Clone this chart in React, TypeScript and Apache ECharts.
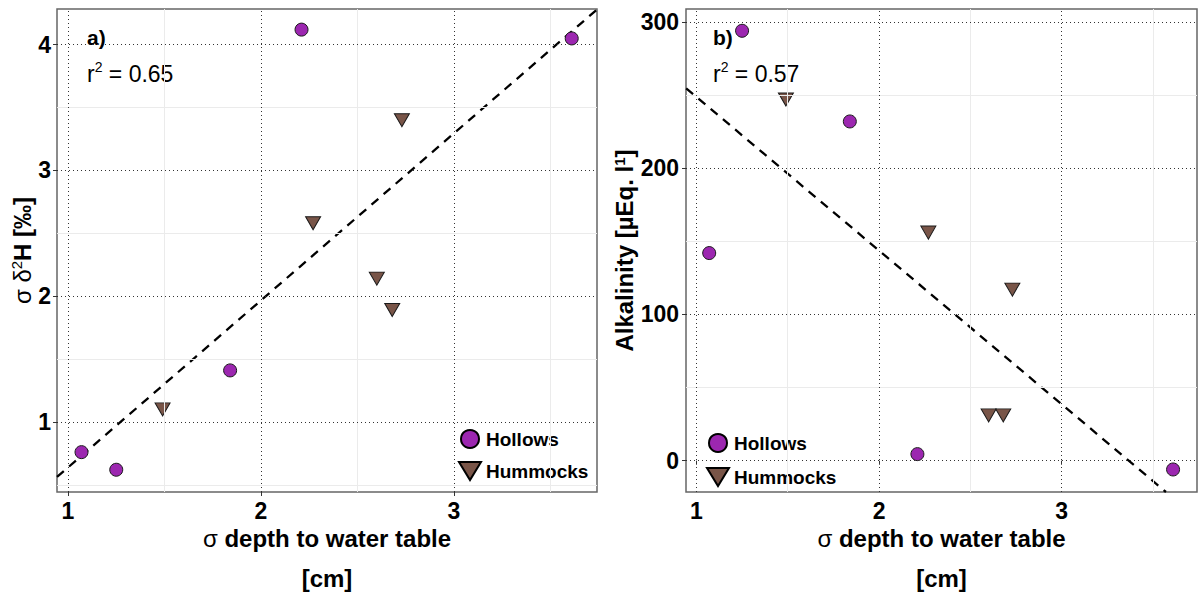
import React, { useEffect, useRef } from 'react';
import * as echarts from 'echarts';

// ---- data ----
const hollowsDepth = [1.07, 1.25, 1.84, 2.21, 3.61];
const hummocksDepth = [1.49, 2.27, 2.6, 2.68, 2.73];

const hollowsD2H = [0.76, 0.62, 1.41, 4.12, 4.05];
const hummocksD2H = [1.1, 2.58, 2.14, 1.89, 3.4];

const hollowsAlk = [142, 294, 232, 4.5, -6];
const hummocksAlk = [247, 156, 31, 31, 117];

// regression lines (end points)
const fitD2HX = [0.943, 3.741];
const fitD2HY = [0.5625, 4.28];
const fitAlkX = [0.944, 3.571];
const fitAlkY = [254.7, -21.4];

// axes
const depthRange = [0.943, 3.741];
const d2hRange = [0.443, 4.284];
const alkRange = [-21.4, 308.9];

const depthTicks = [1, 2, 3];
const depthMinor = [1.5, 2.5, 3.5];
const d2hTicks = [1, 2, 3, 4];
const d2hMinor = [0.5, 1.5, 2.5, 3.5];
const alkTicks = [0, 100, 200, 300];
const alkMinor = [50, 150, 250];

const r2Left = '0.65';
const r2Right = '0.57';

const FONT = '"Liberation Sans", Arial, sans-serif';
const PURPLE = '#9C27B0';
const BROWN = '#795548';
const DOWN_TRIANGLE = 'path://M0,0 L22,0 L11,18 Z';

const zip = (xs: number[], ys: number[]) => xs.map((x, i) => [x, ys[i]]);

function gridLines(xMinor: number[], yMinor: number[], xMajor: number[], yMajor: number[]) {
  const minorStyle = { color: '#ebebeb', width: 1, type: 'solid' };
  const majorStyle = { color: '#333', width: 1, type: [1, 3] };
  return [
    ...xMinor.map((v) => ({ xAxis: v, lineStyle: minorStyle })),
    ...yMinor.map((v) => ({ yAxis: v, lineStyle: minorStyle })),
    ...xMajor.map((v) => ({ xAxis: v, lineStyle: majorStyle })),
    ...yMajor.map((v) => ({ yAxis: v, lineStyle: majorStyle })),
  ];
}

const tickLabel = { fontFamily: FONT, fontSize: 23, fontWeight: 'bold', color: '#000' };

function xAxisFor(gridIndex: number) {
  return {
    type: 'value',
    gridIndex,
    min: depthRange[0],
    max: depthRange[1],
    splitLine: { show: false },
    axisLine: { show: false },
    axisTick: { show: true, length: 4, customValues: depthTicks, lineStyle: { color: '#333', width: 1 } },
    axisLabel: { ...tickLabel, margin: 7, customValues: depthTicks },
    name: '{s|σ}{b| depth to water table}\n{b|[cm]}',
    nameLocation: 'middle',
    nameGap: 24,
    nameTextStyle: {
      rich: {
        s: { fontFamily: FONT, fontSize: 24, fontWeight: 'normal', color: '#000', lineHeight: 40 },
        b: { fontFamily: FONT, fontSize: 24, fontWeight: 'bold', color: '#000', lineHeight: 40 },
      },
    },
  };
}

function seriesFor(idx: number, hx: number[], hy: number[], mx: number[], my: number[], fx: number[], fy: number[], yMinor: number[], yMajor: number[]) {
  return [
    {
      type: 'line',
      name: 'fit' + idx,
      xAxisIndex: idx,
      yAxisIndex: idx,
      data: zip(fx, fy),
      symbol: 'none',
      showSymbol: false,
      silent: true,
      z: 2,
      lineStyle: { color: '#000', width: 2.3, type: [9, 7] },
      markLine: {
        silent: true,
        symbol: ['none', 'none'],
        label: { show: false },
        emphasis: { disabled: true },
        data: gridLines(depthMinor, yMinor, depthTicks, yMajor),
      },
    },
    {
      type: 'scatter',
      name: 'Hollows',
      xAxisIndex: idx,
      yAxisIndex: idx,
      data: zip(hx, hy),
      symbol: 'circle',
      symbolSize: 13,
      z: 3,
      itemStyle: { color: PURPLE, borderColor: '#1a1a1a', borderWidth: 1, opacity: 1 },
    },
    {
      type: 'scatter',
      name: 'Hummocks',
      xAxisIndex: idx,
      yAxisIndex: idx,
      data: zip(mx, my),
      symbol: 'triangle',
      symbolRotate: 180,
      symbolSize: [15, 13],
      z: 3,
      itemStyle: { color: BROWN, borderColor: '#1a1a1a', borderWidth: 1, opacity: 1 },
    },
  ];
}

function legendFor(left: number, top: number, gap: number) {
  return {
    left,
    top,
    orient: 'vertical',
    itemGap: gap,
    itemWidth: 22,
    itemHeight: 18,
    symbolKeepAspect: false,
    symbolRotate: 0,
    selectedMode: false,
    itemStyle: { borderColor: '#000', borderWidth: 2, opacity: 1 },
    textStyle: { fontFamily: FONT, fontSize: 19, fontWeight: 'bold', color: '#000' },
    data: [
      { name: 'Hollows', icon: 'circle' },
      { name: 'Hummocks', icon: DOWN_TRIANGLE },
    ],
  };
}

function annotation(x: number, panel: string, r2: string) {
  return [
    {
      type: 'text',
      x,
      y: 37,
      style: { text: panel, font: `bold 21px ${FONT}`, fill: '#000', verticalAlign: 'middle' },
    },
    {
      type: 'text',
      x,
      y: 74,
      style: {
        text: `{r|r}{s|2}{r| = ${r2}}`,
        verticalAlign: 'middle',
        rich: {
          r: { fontFamily: FONT, fontSize: 23, fill: '#000', lineHeight: 28 },
          s: { fontFamily: FONT, fontSize: 14, fill: '#000', lineHeight: 16, verticalAlign: 'top' },
        },
      },
    },
  ];
}

export default function App() {
  const ref = useRef<HTMLDivElement>(null);
  useEffect(() => {
    if (!ref.current) return;
    const chart = echarts.init(ref.current, undefined, { renderer: 'svg' });
    const option = {
      animation: false,
      backgroundColor: '#fff',
      grid: [
        { left: 57, top: 9, width: 540, height: 483, show: true, borderColor: '#666', borderWidth: 1.5, backgroundColor: 'transparent' },
        { left: 686, top: 9, width: 511, height: 483, show: true, borderColor: '#666', borderWidth: 1.5, backgroundColor: 'transparent' },
      ],
      xAxis: [xAxisFor(0), xAxisFor(1)],
      yAxis: [
        {
          type: 'value',
          gridIndex: 0,
          min: d2hRange[0],
          max: d2hRange[1],
          splitLine: { show: false },
          axisLine: { show: false },
          axisTick: { show: true, length: 4, customValues: d2hTicks, lineStyle: { color: '#333', width: 1 } },
          axisLabel: { ...tickLabel, margin: 6, customValues: d2hTicks },
          name: '{n|σ δ}{s|2}{b|H [‰]}',
          nameLocation: 'middle',
          nameRotate: 90,
          nameGap: 15,
          nameTextStyle: {
            rich: {
              n: { fontFamily: FONT, fontSize: 24, fontWeight: 'normal', color: '#000', lineHeight: 26 },
              s: { fontFamily: FONT, fontSize: 15, fontWeight: 'normal', color: '#000', lineHeight: 16, verticalAlign: 'top' },
              b: { fontFamily: FONT, fontSize: 24, fontWeight: 'bold', color: '#000', lineHeight: 26 },
            },
          },
        },
        {
          type: 'value',
          gridIndex: 1,
          min: alkRange[0],
          max: alkRange[1],
          splitLine: { show: false },
          axisLine: { show: false },
          axisTick: { show: true, length: 4, customValues: alkTicks, lineStyle: { color: '#333', width: 1 } },
          axisLabel: { ...tickLabel, margin: 7, customValues: alkTicks },
          name: '{b|Alkalinity [µEq. l}{s|1}{b|]}',
          nameLocation: 'middle',
          nameRotate: 90,
          nameGap: 46,
          nameTextStyle: {
            rich: {
              s: { fontFamily: FONT, fontSize: 15, fontWeight: 'bold', color: '#000', lineHeight: 16, verticalAlign: 'top' },
              b: { fontFamily: FONT, fontSize: 24, fontWeight: 'bold', color: '#000', lineHeight: 26 },
            },
          },
        },
      ],
      legend: [legendFor(453, 424, 12), legendFor(701, 428, 14)],
      series: [
        ...seriesFor(0, hollowsDepth, hollowsD2H, hummocksDepth, hummocksD2H, fitD2HX, fitD2HY, d2hMinor, d2hTicks),
        ...seriesFor(1, hollowsDepth, hollowsAlk, hummocksDepth, hummocksAlk, fitAlkX, fitAlkY, alkMinor, alkTicks),
      ],
      graphic: [...annotation(87, 'a)', r2Left), ...annotation(713, 'b)', r2Right)],
    };
    chart.setOption(option as any);
    return () => chart.dispose();
  }, []);
  return <div ref={ref} style={{ position: 'fixed', left: 0, top: 0, width: 1198, height: 597 }} />;
}
